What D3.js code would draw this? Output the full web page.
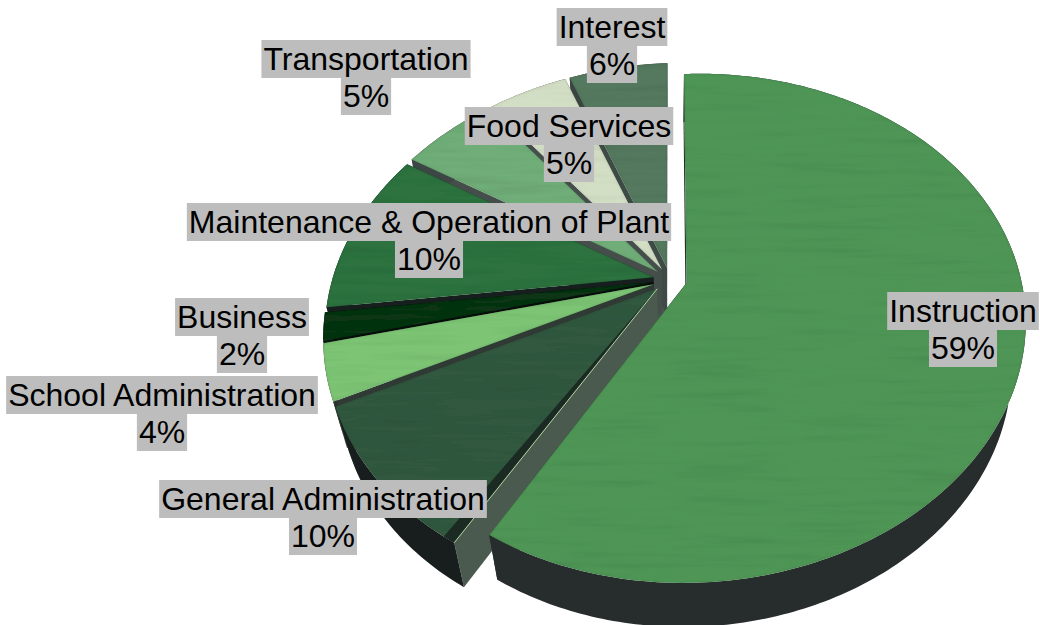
<!DOCTYPE html>
<html>
<head>
<meta charset="utf-8">
<script src="https://cdn.jsdelivr.net/npm/d3@7"></script>
<style>
body { margin: 0; background: #fff; }
text { font-family: "Liberation Sans", Arial, sans-serif; font-size: 32px; fill: #000; }
</style>
</head>
<body>
<div id="pie3d"></div>
<script>
// clockwise from 12 o'clock
var categories = ["Instruction", "General Administration", "School Administration", "Business",
  "Maintenance & Operation of Plant", "Transportation", "Food Services", "Interest"];
// shares, they round to the printed percents
var shares = [58.5, 9.5, 3.6, 1.8, 10.49, 5.49, 4.6, 5.7];

var topColors = ["#4f9657", "#33593f", "#7dc475", "#0c3517", "#2f7240", "#70ad78", "#d3dfc5", "#54795f"];
var rimColors = ["#272c2c", "#181d1d", "#2a3330", "#0a1510", "#161e1e", "#3c4644", "#3c4644", "#3a4541"];
var cutColors = ["#272c2c", "#4a5a4f", "#2e3a33", "#070d0a", "#161e1e", "#464e4c", "#464e4c", "#3e4a45"];

// label centres, same order as categories
var labelX = [963, 323, 162, 242, 429, 366, 569, 612];
var labelTop = [292, 480, 376, 298, 203, 40, 107, 8];

var width = 1040, height = 625;
var cx = 670, cy = 280;
var radiusX = 328, radiusY = 245, tilt = 0.178, yaw = 0.012, roll = 9;
var depth = 50, depthShrink = 0.04, explode = 0.052;

// pie plane (u right, v toward viewer) to the screen, t = 0 top face, t = 1 bottom
function project(u, v, t) {
  var d = 1 - tilt * v - yaw * u + depthShrink * t;
  return [cx + radiusX * u / d, cy + (radiusY * v - roll * u + depth * t) / d];
}

var svg = d3.select("#pie3d").append("svg")
  .attr("width", width)
  .attr("height", height);

var defs = svg.append("defs");
var grain = defs.append("filter").attr("id", "grain")
  .attr("x", 0).attr("y", 0).attr("width", "100%").attr("height", "100%");
grain.append("feTurbulence").attr("type", "fractalNoise")
  .attr("baseFrequency", "0.009 0.13").attr("numOctaves", 3).attr("seed", 4).attr("result", "noise");
grain.append("feColorMatrix").attr("in", "noise").attr("type", "matrix")
  .attr("values", "0 0 0 0 0  0 0 0 0 0  0 0 0 0 0  0.26 0 0 0 -0.115").attr("result", "streaks");
grain.append("feComposite").attr("in", "streaks").attr("in2", "SourceAlpha")
  .attr("operator", "in").attr("result", "streaksIn");
grain.append("feGaussianBlur").attr("in", "SourceAlpha").attr("stdDeviation", 1.5).attr("result", "soft");
grain.append("feComposite").attr("in", "SourceAlpha").attr("in2", "soft")
  .attr("operator", "out").attr("result", "rim");
grain.append("feColorMatrix").attr("in", "rim").attr("type", "matrix")
  .attr("values", "0 0 0 0 0  0 0 0 0 0  0 0 0 0 0  0 0 0 0.25 0").attr("result", "rimSoft");
var gm = grain.append("feMerge");
gm.append("feMergeNode").attr("in", "SourceGraphic");
gm.append("feMergeNode").attr("in", "streaksIn");
gm.append("feMergeNode").attr("in", "rimSoft");

var slices = d3.pie().sort(null).startAngle(0).endAngle(2 * Math.PI)(shares);
var line = d3.line();

function arcAngles(a0, a1) {
  var n = Math.max(2, Math.ceil((a1 - a0) / 0.015));
  return d3.range(n + 1).map(function(i) { return a0 + (a1 - a0) * i / n; });
}

function apexPoint(s, t) {
  var mid = (s.startAngle + s.endAngle) / 2;
  return project(explode * Math.sin(mid), -explode * Math.cos(mid), t);
}

function drawSlice(g, s) {
  var mid = (s.startAngle + s.endAngle) / 2;
  var ou = explode * Math.sin(mid), ov = -explode * Math.cos(mid);
  var rimPoint = function(a, t) { return project(ou + Math.sin(a), ov - Math.cos(a), t); };
  var apex = function(t) { return apexPoint(s, t); };
  var angles = arcAngles(s.startAngle, s.endAngle);
  var i = s.index;

  // cut faces, then outer wall, then the top
  [s.startAngle, s.endAngle].forEach(function(a) {
    g.append("path")
      .attr("d", line([apex(0), rimPoint(a, 0), rimPoint(a, 1), apex(1)]) + "Z")
      .attr("fill", cutColors[i]);
  });
  g.append("path")
    .attr("d", line(angles.map(function(a) { return rimPoint(a, 0); })
      .concat(angles.slice().reverse().map(function(a) { return rimPoint(a, 1); }))) + "Z")
    .attr("fill", rimColors[i]);
  g.append("path")
    .attr("d", line([apex(0)].concat(angles.map(function(a) { return rimPoint(a, 0); }))) + "Z")
    .attr("fill", topColors[i])
    .attr("filter", "url(#grain)");

  // dark band and bright hairline on the cut of General Administration
  if (i === 1) {
    var band = arcAngles(s.startAngle, s.startAngle + 0.035);
    g.append("path")
      .attr("d", line([apex(0)].concat(band.map(function(a) { return rimPoint(a, 0); }))) + "Z")
      .attr("fill", "#1b2a23");
    g.append("path")
      .attr("d", line([apex(0), rimPoint(s.startAngle, 0)]))
      .attr("stroke", "#b7d6a4")
      .attr("stroke-width", 1)
      .attr("fill", "none");
  }
}

// grey core where the small slices meet, Instruction stands clear of it
var corePoints = [];
slices.slice(1).forEach(function(s) {
  corePoints.push(apexPoint(s, 0), apexPoint(s, 1));
});
svg.append("path")
  .attr("d", line(d3.polygonHull(corePoints)) + "Z")
  .attr("fill", "#4c5450");

// back to front, Instruction sits over everything
slices.slice().reverse().forEach(function(s) {
  drawSlice(svg.append("g").attr("class", "slice"), s);
});

// labels: grey box behind each of the two lines
var lineH = 37;
var labels = svg.selectAll("g.label")
  .data(categories)
  .join("g")
  .attr("class", "label");

labels.each(function(name, i) {
  var g = d3.select(this);
  [name, Math.round(shares[i]) + "%"].forEach(function(txt, k) {
    var box = g.append("rect");
    var t = g.append("text")
      .attr("x", labelX[i])
      .attr("y", labelTop[i] + lineH * k + 30)
      .attr("text-anchor", "middle")
      .text(txt);
    var w = t.node().getComputedTextLength();
    box.attr("x", labelX[i] - w / 2 - 2)
      .attr("y", labelTop[i] + lineH * k)
      .attr("width", w + 4)
      .attr("height", lineH + 1)
      .attr("fill", "#bdbdbd");
  });
});
</script>
</body>
</html>
